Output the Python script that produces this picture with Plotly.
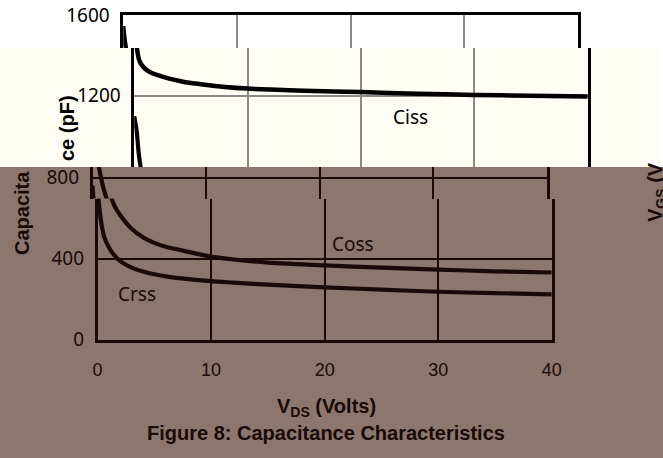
import plotly.graph_objects as go

# ---------------- data ----------------
V_DS = [0, 0.1, 0.2, 0.4, 0.6, 1, 1.5, 2, 3, 4, 5, 6, 8, 10, 12, 15, 20, 25, 30, 35, 40]
CISS = [1545, 1485, 1445, 1380, 1355, 1330, 1313, 1302, 1285, 1272, 1262, 1255, 1243,
        1235, 1230, 1225, 1218, 1210, 1204, 1200, 1196]
COSS = [1100, 1065, 1035, 915, 840, 740, 660, 615, 548, 506, 478, 459, 434,
        410, 396, 381, 367, 356, 346, 338, 332]
CRSS = [760, 685, 630, 555, 505, 455, 415, 388, 356, 337, 323, 313, 299,
        289, 282, 272, 259, 247, 237, 230, 224]

X_TICKS = [0, 10, 20, 30, 40]
Y_TICKS = [0, 400, 800, 1200, 1600]
CURVE_LABELS = ["Ciss", "Coss", "Crss"]

# ---------------- styling / layout helpers ----------------
W, H = 663, 458
BROWN = "#8b776e"
CREAM = "#fffdf4"
DARK = "#1a0a07"
GRAY = "#8a8a8a"

PX_1600, PX_0 = 14.0, 341.0


def val(py):
    return 1600.0 * (PX_0 - py) / (PX_0 - PX_1600)


def xdom(l, r):
    return [l / W, r / W]


def ydom(top, bot):
    return [1 - bot / H, 1 - top / H]


bands = [
    dict(xl=122, xr=579, yt=14, yb=48, grid=GRAY, line="#000000", curve="#000000", top=True, bottom=False),
    dict(xl=133, xr=589, yt=48, yb=167, grid=GRAY, line="#000000", curve="#000000", top=False, bottom=False),
    dict(xl=91.3, xr=548, yt=167, yb=198.5, grid=DARK, line=DARK, curve=DARK, top=False, bottom=False),
    dict(xl=96.3, xr=553, yt=198.5, yb=341, grid=DARK, line=DARK, curve=DARK, top=False, bottom=True),
]

fig = go.Figure()
layout = {}
LW = 2.5

for i, b in enumerate(bands, start=1):
    xs = "" if i == 1 else str(i)
    for name, ys, w in (("Ciss", CISS, 4.5), ("Coss", COSS, 4.2), ("Crss", CRSS, 4.2)):
        fig.add_trace(go.Scatter(
            x=V_DS, y=ys, mode="lines", name=name, showlegend=False, hoverinfo="skip",
            line=dict(color=b["curve"], width=w, shape="spline", smoothing=0.8),
            xaxis="x" + xs, yaxis="y" + xs,
        ))
    dl = b["xl"] + LW / 2
    dr = b["xr"] - LW / 2
    dt = b["yt"] + (LW / 2 if b["top"] else 0)
    db = b["yb"] - (LW / 2 if b["bottom"] else 0)
    layout["xaxis" + xs] = dict(
        domain=xdom(dl, dr), range=[0, 40], anchor="y" + xs,
        tickmode="array", tickvals=X_TICKS, ticktext=[str(t) for t in X_TICKS],
        showgrid=True, gridcolor=b["grid"], gridwidth=2, zeroline=False,
        showline=b["top"] or b["bottom"], linecolor=b["line"], linewidth=LW,
        side="top" if b["top"] else "bottom", mirror=False,
        showticklabels=b["bottom"], ticks="", ticklabelstandoff=12,
        tickfont=dict(family="Liberation Sans, Arial", size=18, color=DARK),
        fixedrange=True, automargin=False,
    )
    layout["yaxis" + xs] = dict(
        domain=ydom(dt, db), range=[val(b["yb"]), val(b["yt"])], anchor="x" + xs,
        tickmode="array", tickvals=Y_TICKS, ticktext=[str(t) for t in Y_TICKS],
        showgrid=True, gridcolor=b["grid"], gridwidth=2, zeroline=False,
        showline=True, mirror=True, linecolor=b["line"], linewidth=LW,
        ticks="", ticklabelstandoff=7,
        tickfont=dict(family="Noto Sans", size=19, color="#000000" if i <= 2 else DARK),
        fixedrange=True, automargin=False,
    )

annotations = [
    dict(text=CURVE_LABELS[0], x=24.4, y=1096, xref="x2", yref="y2", showarrow=False,
         font=dict(family="Noto Sans", size=19, color="#000000")),
    dict(text=CURVE_LABELS[1], x=22.5, y=472, xref="x4", yref="y4", showarrow=False,
         font=dict(family="Noto Sans", size=19, color=DARK)),
    dict(text=CURVE_LABELS[2], x=3.5, y=225, xref="x4", yref="y4", showarrow=False,
         font=dict(family="Noto Sans", size=19, color=DARK)),
    dict(text="<b>V<sub>DS</sub> (Volts)</b>", x=326.5 / W, y=1 - 407 / H, xref="paper", yref="paper",
         showarrow=False, xanchor="center", yanchor="middle",
         font=dict(family="Liberation Sans, Arial", size=20, color=DARK)),
    dict(text="<b>Figure 8: Capacitance Characteristics</b>", x=326 / W, y=1 - 433 / H,
         xref="paper", yref="paper", showarrow=False, xanchor="center", yanchor="middle",
         font=dict(family="Liberation Sans, Arial", size=20, color=DARK)),
    # y-axis title, split by the shifted bands
    dict(text="<b>Capacita</b>", x=22 / W, y=1 - 256 / H, xref="paper", yref="paper",
         showarrow=False, textangle=-90, xanchor="center", yanchor="bottom", borderpad=0,
         font=dict(family="Liberation Sans, Arial", size=20, color=DARK)),
    dict(text="<b>ce (pF)</b>", x=67 / W, y=1 - 162 / H, xref="paper", yref="paper",
         showarrow=False, textangle=-90, xanchor="center", yanchor="bottom", borderpad=0,
         font=dict(family="Liberation Sans, Arial", size=20, color="#000000")),
    # right-hand (secondary) axis title, cut by the image edge as in the reference
    dict(text="<b>V<sub>GS</sub> (V</b>", x=656 / W, y=1 - 223 / H, xref="paper", yref="paper",
         showarrow=False, textangle=-90, xanchor="center", yanchor="bottom", borderpad=0,
         font=dict(family="Liberation Sans, Arial", size=20, color=DARK)),
]

shapes = [
    dict(type="rect", xref="paper", yref="paper", x0=0, x1=1, y0=1 - 48 / H, y1=1,
         fillcolor="#ffffff", line=dict(width=0), layer="below"),
    dict(type="rect", xref="paper", yref="paper", x0=0, x1=660 / W, y0=1 - 167 / H, y1=1 - 48 / H,
         fillcolor=CREAM, line=dict(width=0), layer="below"),
    dict(type="rect", xref="paper", yref="paper", x0=660 / W, x1=1, y0=1 - 167 / H, y1=1 - 48 / H,
         fillcolor="#ffffff", line=dict(width=0), layer="below"),
]

fig.update_layout(
    width=W, height=H, margin=dict(l=0, r=0, t=0, b=0, autoexpand=False),
    paper_bgcolor=BROWN, plot_bgcolor="rgba(0,0,0,0)",
    showlegend=False, annotations=annotations, shapes=shapes,
    **layout,
)

fig.write_html("out.html", config={"displayModeBar": False})
